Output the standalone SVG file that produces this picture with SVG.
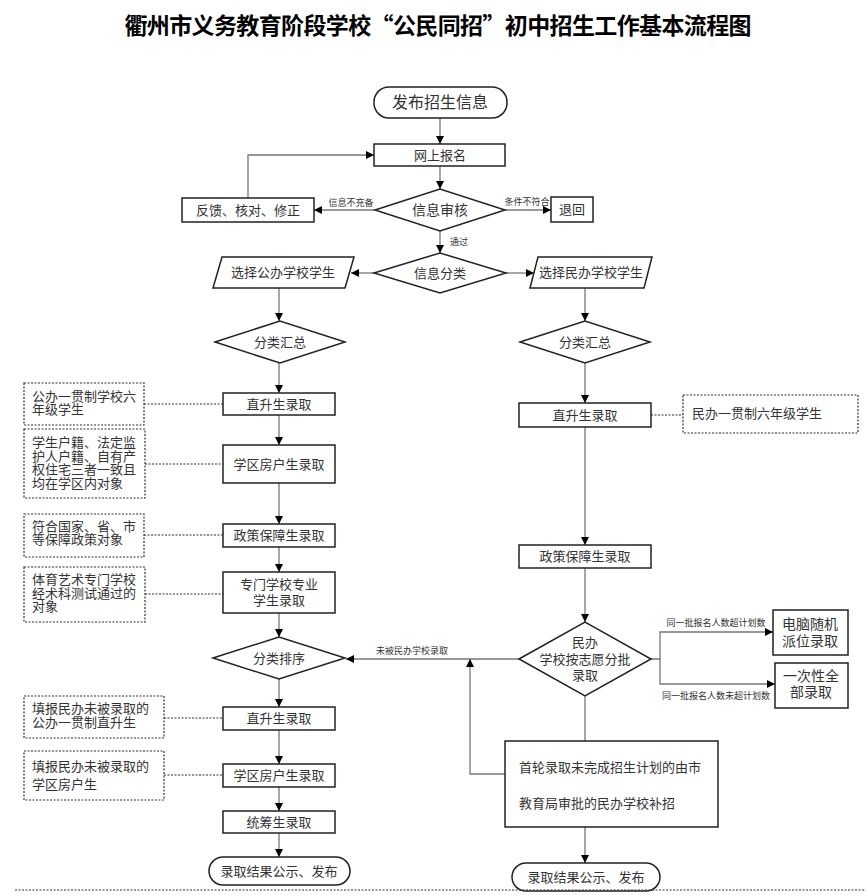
<svg xmlns="http://www.w3.org/2000/svg" width="866" height="895" viewBox="0 0 866 895">
<style>
text{font-family:"Noto Sans CJK SC","Noto Sans",sans-serif;fill:#333;text-anchor:middle}
.t{font-size:13px}
.big{font-size:16px}
.m{font-size:14px}
.s{font-size:9px}
.l{text-anchor:start;font-size:13px}
.box{fill:#fff;stroke:#222;stroke-width:1.5}
.dot{fill:#fff;stroke:#333;stroke-width:1.2;stroke-dasharray:2 1.5}
.ln{fill:none;stroke:#777;stroke-width:1.3}
.dl{fill:none;stroke:#333;stroke-width:1.2;stroke-dasharray:2 1.5}
.title{font-size:23px;font-weight:bold;fill:#000}
</style>
<defs>
<marker id="ah" viewBox="0 0 10 10" refX="10" refY="5" markerWidth="8" markerHeight="9" markerUnits="userSpaceOnUse" orient="auto"><path d="M0,0 L10,5 L0,10 z" fill="#000"/></marker>
</defs>
<rect width="866" height="895" fill="#fff"/>
<text class="title" x="438" y="34" textLength="627" lengthAdjust="spacing">衢州市义务教育阶段学校“公民同招”初中招生工作基本流程图</text>

<g id="connectors">
<path class="ln" d="M440,118 V144" marker-end="url(#ah)"/>
<path class="ln" d="M440,166 V189" marker-end="url(#ah)"/>
<path class="ln" d="M375,210 H314" marker-end="url(#ah)"/>
<path class="ln" d="M248,198 V155 H374" marker-end="url(#ah)"/>
<path class="ln" d="M505,210 H551" marker-end="url(#ah)"/>
<path class="ln" d="M440,231 V253" marker-end="url(#ah)"/>
<path class="ln" d="M374,273 H351" marker-end="url(#ah)"/>
<path class="ln" d="M506,273 H534" marker-end="url(#ah)"/>
<path class="ln" d="M279,288 V321" marker-end="url(#ah)"/>
<path class="ln" d="M279,363 V393" marker-end="url(#ah)"/>
<path class="ln" d="M279,415 V445" marker-end="url(#ah)"/>
<path class="ln" d="M279,483 V524" marker-end="url(#ah)"/>
<path class="ln" d="M279,547 V572" marker-end="url(#ah)"/>
<path class="ln" d="M279,613 V637" marker-end="url(#ah)"/>
<path class="ln" d="M279,679 V707" marker-end="url(#ah)"/>
<path class="ln" d="M279,730 V764" marker-end="url(#ah)"/>
<path class="ln" d="M279,787 V811" marker-end="url(#ah)"/>
<path class="ln" d="M279,833 V857" marker-end="url(#ah)"/>
<path class="ln" d="M585,288 V321" marker-end="url(#ah)"/>
<path class="ln" d="M585,363 V403" marker-end="url(#ah)"/>
<path class="ln" d="M585,427 V545" marker-end="url(#ah)"/>
<path class="ln" d="M585,568 V622" marker-end="url(#ah)"/>
<path class="ln" d="M651,659 H660 V632 H773" marker-end="url(#ah)"/>
<path class="ln" d="M660,659 V684 H775" marker-end="url(#ah)"/>
<path class="ln" d="M519,659 H346" marker-end="url(#ah)"/>
<path class="ln" d="M585,696 V741"/>
<path class="ln" d="M505,774 H470 V659" marker-end="url(#ah)"/>
<path class="ln" d="M585,827 V863" marker-end="url(#ah)"/>
<path class="dl" d="M144,404 H223"/>
<path class="dl" d="M145,464 H223"/>
<path class="dl" d="M144,535 H223"/>
<path class="dl" d="M145,594 H223"/>
<path class="dl" d="M164,718 H223"/>
<path class="dl" d="M164,775 H223"/>
<path class="dl" d="M651,415 H683"/>
<text class="s" x="351" y="206">信息不充备</text>
<text class="s" x="527" y="205">条件不符合</text>
<text class="s" x="450" y="245" style="text-anchor:start">通过</text>
<text class="s" x="412" y="654">未被民办学校录取</text>
<text class="s" x="716" y="626">同一批报名人数超计划数</text>
<text class="s" x="716" y="699">同一批报名人数未超计划数</text>
</g>

<g id="n_start"><rect class="box" x="374" y="87" width="133" height="31" rx="15"/><text class="big" x="440" y="108">发布招生信息</text></g>
<g id="n_reg"><rect class="box" x="374" y="144" width="131" height="22"/><text class="t" x="440" y="160">网上报名</text></g>
<g id="n_check"><polygon class="box" points="375,210 440,189 505,210 440,231"/><text class="m" x="440" y="215">信息审核</text></g>
<g id="n_fix"><rect class="box" x="182" y="198" width="132" height="24"/><text class="t" x="248" y="215">反馈、核对、修正</text></g>
<g id="n_return"><rect class="box" x="551" y="197" width="42" height="25"/><text class="t" x="572" y="214">退回</text></g>
<g id="n_classify"><polygon class="box" points="374,273 440,253 506,273 440,293"/><text class="t" x="440" y="278">信息分类</text></g>
<g id="n_pub"><polygon class="box" points="222,257 354,257 345,288 213,288"/><text class="t" x="283" y="277">选择公办学校学生</text></g>
<g id="n_pri"><polygon class="box" points="538,257 652,257 644,288 530,288"/><text class="t" x="591" y="277">选择民办学校学生</text></g>

<g id="n_lsum"><polygon class="box" points="215,342 280,321 345,342 280,363"/><text class="t" x="280" y="347">分类汇总</text></g>
<g id="n_rsum"><polygon class="box" points="520,342 585,321 650,342 585,363"/><text class="t" x="585" y="347">分类汇总</text></g>

<g id="n_l1"><rect class="box" x="223" y="393" width="112" height="22"/><text class="t" x="279" y="409">直升生录取</text></g>
<g id="n_l2"><rect class="box" x="223" y="445" width="112" height="38"/><text class="t" x="279" y="469">学区房户生录取</text></g>
<g id="n_l3"><rect class="box" x="223" y="524" width="112" height="23"/><text class="t" x="279" y="540">政策保障生录取</text></g>
<g id="n_l4"><rect class="box" x="223" y="572" width="112" height="41"/><text class="t" x="279" y="589">专门学校专业</text><text class="t" x="279" y="605">学生录取</text></g>
<g id="n_sort"><polygon class="box" points="213,658 279,637 345,658 279,679"/><text class="t" x="279" y="663">分类排序</text></g>
<g id="n_l5"><rect class="box" x="223" y="707" width="112" height="23"/><text class="t" x="279" y="723">直升生录取</text></g>
<g id="n_l6"><rect class="box" x="223" y="764" width="112" height="23"/><text class="t" x="279" y="780">学区房户生录取</text></g>
<g id="n_l7"><rect class="box" x="223" y="811" width="112" height="22"/><text class="t" x="279" y="827">统筹生录取</text></g>
<g id="n_lend"><rect class="box" x="209" y="857" width="141" height="28" rx="14"/><text class="t" x="279" y="876">录取结果公示、发布</text></g>

<g id="n_d1"><rect class="dot" x="24" y="383" width="120" height="42"/><text class="l" x="32" y="401">公办一贯制学校六</text><text class="l" x="32" y="414">年级学生</text></g>
<g id="n_d2"><rect class="dot" x="24" y="429" width="121" height="69"/><text class="l" x="32" y="447">学生户籍、法定监</text><text class="l" x="32" y="461">护人户籍、自有产</text><text class="l" x="32" y="474">权住宅三者一致且</text><text class="l" x="32" y="488">均在学区内对象</text></g>
<g id="n_d3"><rect class="dot" x="24" y="514" width="120" height="43"/><text class="l" x="32" y="531">符合国家、省、市</text><text class="l" x="32" y="544">等保障政策对象</text></g>
<g id="n_d4"><rect class="dot" x="24" y="567" width="121" height="55"/><text class="l" x="32" y="584">体育艺术专门学校</text><text class="l" x="32" y="598">经术科测试通过的</text><text class="l" x="32" y="611">对象</text></g>
<g id="n_d5"><rect class="dot" x="24" y="696" width="140" height="42"/><text class="l" x="32" y="713">填报民办未被录取的</text><text class="l" x="32" y="727">公办一贯制直升生</text></g>
<g id="n_d6"><rect class="dot" x="24" y="751" width="140" height="49"/><text class="l" x="32" y="771">填报民办未被录取的</text><text class="l" x="32" y="789">学区房户生</text></g>
<g id="n_d7"><rect class="dot" x="683" y="395" width="175" height="38"/><text class="l" x="692" y="418">民办一贯制六年级学生</text></g>

<g id="n_r1"><rect class="box" x="519" y="403" width="132" height="24"/><text class="t" x="585" y="420">直升生录取</text></g>
<g id="n_r2"><rect class="box" x="519" y="545" width="132" height="23"/><text class="t" x="585" y="561">政策保障生录取</text></g>
<g id="n_rdia"><polygon class="box" points="519,659 585,622 651,659 585,696"/><text class="t" x="585" y="647">民办</text><text class="t" x="585" y="664">学校按志愿分批</text><text class="t" x="585" y="680">录取</text></g>
<g id="n_r3"><rect class="box" x="773" y="610" width="75" height="45"/><text class="m" x="810" y="629">电脑随机</text><text class="m" x="810" y="646">派位录取</text></g>
<g id="n_r4"><rect class="box" x="775" y="663" width="73" height="45"/><text class="m" x="811" y="681">一次性全</text><text class="m" x="811" y="697">部录取</text></g>
<g id="n_r5"><rect class="box" x="505" y="741" width="213" height="86"/><text class="l" x="519" y="772">首轮录取未完成招生计划的由市</text><text class="l" x="519" y="808">教育局审批的民办学校补招</text></g>
<g id="n_rend"><rect class="box" x="512" y="863" width="148" height="28" rx="14"/><text class="t" x="586" y="882">录取结果公示、发布</text></g>

<path class="dl" d="M15,890 H866"/>
</svg>
